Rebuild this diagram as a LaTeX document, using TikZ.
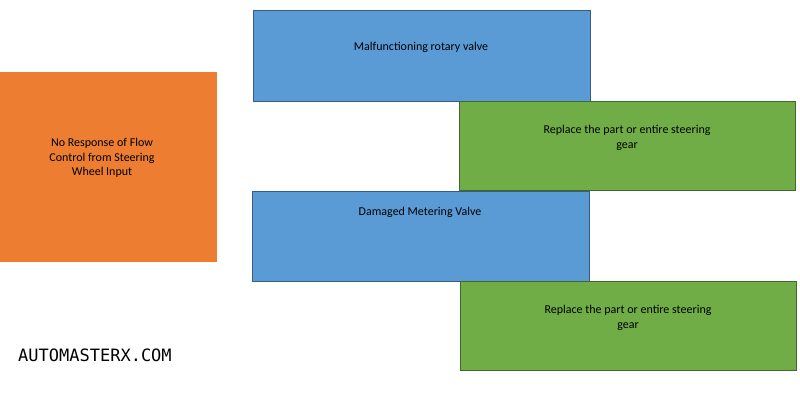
\documentclass[tikz,border=0pt]{standalone}
\usepackage{fontspec}
\setmainfont{Carlito}
\newfontfamily\monof{DejaVu Sans Mono}
\begin{document}
\begin{tikzpicture}[x=1pt,y=-1pt,
 box/.style={draw=#1!60!black,line width=0.8pt},
 lbl/.style={font=\fontsize{12}{14.5}\selectfont,align=center,text=black}]
\useasboundingbox (0,0) rectangle (800,400);
\definecolor{bo}{HTML}{ED7D31}\definecolor{bb}{HTML}{5B9BD5}\definecolor{bg}{HTML}{70AD47}
\fill[bo] (0,72) rectangle (217,262);
\node[lbl] (o) at (102,158) {No Response of Flow\\Control from Steering\\Wheel Input};
\filldraw[fill=bb,box=bb] (253,10) rectangle (590,101);
\node[lbl] (b1) at (421,47) {Malfunctioning rotary valve};
\filldraw[fill=bg,box=bg] (459,101) rectangle (795,190);
\node[lbl] (g1) at (627,138) {Replace the part or entire steering\\gear};
\filldraw[fill=bb,box=bb] (252,191) rectangle (589,281);
\node[lbl] (b2) at (420,212) {Damaged Metering Valve};
\filldraw[fill=bg,box=bg] (460,281) rectangle (796,370);
\node[lbl] (g2) at (628,318) {Replace the part or entire steering\\gear};
\node[font=\monof\fontsize{17}{20}\selectfont,anchor=west,inner sep=0] (t) at (18,355) {AUTOMASTERX.COM};
\end{tikzpicture}
\end{document}
